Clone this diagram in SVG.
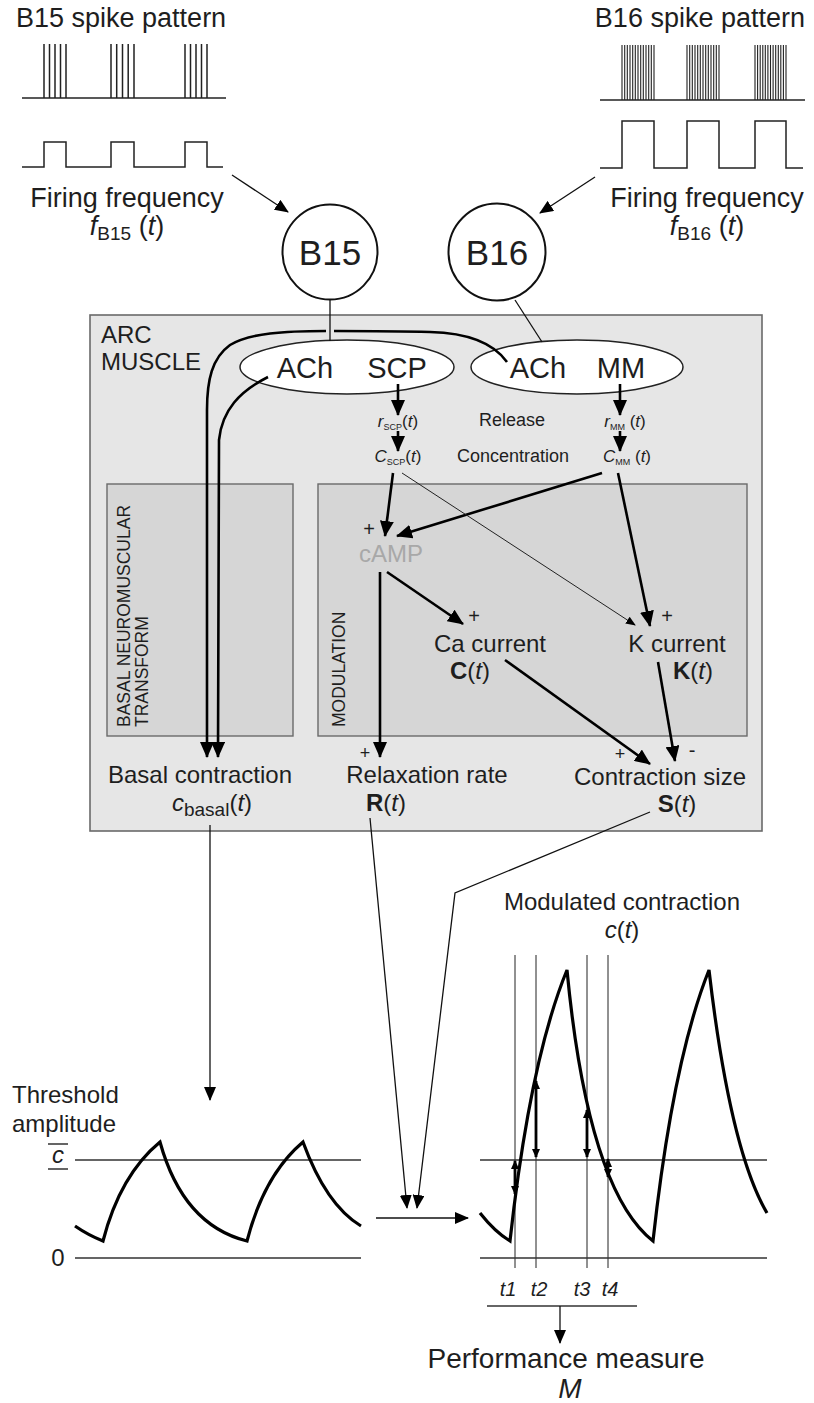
<svg xmlns="http://www.w3.org/2000/svg" width="814" height="1403" viewBox="0 0 814 1403">
  <defs>
    <style>
      text { font-family: "Liberation Sans", Arial, sans-serif; fill: #1e1e1e; }
      .big { font-size: 27px; }
      .lbl { font-size: 24px; }
      .mid { font-size: 18px; }
      .rot { font-size: 17.5px; }
      .sm { font-size: 17px; }
      .it { font-style: italic; }
      .bd { font-weight: bold; }
      .trace { fill: none; stroke: #222; stroke-width: 1.5; }
      .wave { fill: none; stroke: #000; stroke-width: 3.2; stroke-linejoin: miter; }
      .axis { fill: none; stroke: #333; stroke-width: 1.3; }
      .thick { fill: none; stroke: #000; stroke-width: 2.6; }
      .thin { fill: none; stroke: #111; stroke-width: 1.3; }
      .hair { fill: none; stroke: #222; stroke-width: 1; }
    </style>
    <marker id="ahBig" viewBox="0 0 16 14" markerWidth="16" markerHeight="14" refX="15" refY="7" orient="auto" markerUnits="userSpaceOnUse">
      <path d="M0,0 L16,7 L0,14 z" fill="#000"/>
    </marker>
    <marker id="ahMid" viewBox="0 0 14 12" markerWidth="14" markerHeight="12" refX="13" refY="6" orient="auto" markerUnits="userSpaceOnUse">
      <path d="M0,0 L14,6 L0,12 z" fill="#000"/>
    </marker>
    <marker id="ahSmall" viewBox="0 0 10 8" markerWidth="10" markerHeight="8" refX="9" refY="4" orient="auto" markerUnits="userSpaceOnUse">
      <path d="M0,0 L10,4 L0,8 z" fill="#000"/>
    </marker>
    <marker id="ahTiny" viewBox="0 0 9 8" markerWidth="9" markerHeight="8" refX="8" refY="4" orient="auto-start-reverse" markerUnits="userSpaceOnUse">
      <path d="M0,0 L9,4 L0,8 z" fill="#000"/>
    </marker>
  </defs>

  <rect width="814" height="1403" fill="#fff"/>

  <!-- B15 input: spike train and firing frequency -->
  <g id="b15-input">
    <text class="big" x="16" y="27">B15 spike pattern</text>
    <path class="trace" d="M22,98 H226"/>
    <path class="trace" d="M44,44 V98 M49.5,44 V98 M55,44 V98 M60.5,44 V98 M66,44 V98
                           M111,44 V98 M116.7,44 V98 M122.5,44 V98 M128.2,44 V98 M134,44 V98
                           M185,44 V98 M190.5,44 V98 M196,44 V98 M201.5,44 V98 M207,44 V98"/>
    <path class="trace" d="M22,167 H44 V142 H66 V167 H111 V142 H134 V167 H185 V142 H207 V167 H223"/>
    <text class="big" x="127" y="207" text-anchor="middle">Firing frequency</text>
    <text class="big" x="127" y="235" text-anchor="middle"><tspan class="it">f</tspan><tspan font-size="19" dy="5">B15</tspan><tspan dy="-5"> (</tspan><tspan class="it">t</tspan>)</text>
  </g>

  <!-- B16 input: spike train and firing frequency -->
  <g id="b16-input">
    <text class="big" x="805" y="27" text-anchor="end">B16 spike pattern</text>
    <path class="trace" d="M600,100 H805"/>
    <g stroke="#222" stroke-width="1.1">
      <path d="M622,45 V100 M624.7,45 V100 M627.3,45 V100 M630,45 V100 M632.7,45 V100 M635.3,45 V100 M638,45 V100 M640.7,45 V100 M643.3,45 V100 M646,45 V100 M648.7,45 V100 M651.3,45 V100 M654,45 V100"/>
      <path d="M687,45 V100 M689.7,45 V100 M692.3,45 V100 M695,45 V100 M697.7,45 V100 M700.3,45 V100 M703,45 V100 M705.7,45 V100 M708.3,45 V100 M711,45 V100 M713.7,45 V100 M716.3,45 V100 M719,45 V100"/>
      <path d="M755,45 V100 M757.6,45 V100 M760.2,45 V100 M762.8,45 V100 M765.3,45 V100 M767.9,45 V100 M770.5,45 V100 M773.1,45 V100 M775.7,45 V100 M778.3,45 V100 M780.8,45 V100 M783.4,45 V100 M786,45 V100"/>
    </g>
    <path class="trace" d="M600,168 H622 V121 H654 V168 H687 V121 H719 V168 H755 V121 H786 V168 H803"/>
    <text class="big" x="707" y="207" text-anchor="middle">Firing frequency</text>
    <text class="big" x="707" y="235" text-anchor="middle"><tspan class="it">f</tspan><tspan font-size="19" dy="5">B16</tspan><tspan dy="-5"> (</tspan><tspan class="it">t</tspan>)</text>
  </g>

  <!-- Neurons -->
  <g id="neuron-b15">
    <circle cx="330" cy="252" r="47.5" fill="#fff" stroke="#111" stroke-width="2"/>
    <text x="330" y="265" font-size="35" text-anchor="middle">B15</text>
  </g>
  <g id="neuron-b16">
    <circle cx="497" cy="252" r="48.5" fill="#fff" stroke="#111" stroke-width="2"/>
    <text x="497" y="265" font-size="35" text-anchor="middle">B16</text>
  </g>

  <!-- ARC muscle compartment -->
  <g id="arc-muscle">
    <rect x="90" y="315" width="672" height="516" fill="#e6e6e6" stroke="#6a6a6a" stroke-width="1.6"/>
    <text class="lbl" x="101" y="343">ARC</text>
    <text class="lbl" x="101" y="370">MUSCLE</text>
  </g>

  <g id="basal-transform">
    <rect x="107" y="484" width="186" height="252" fill="#d6d6d6" stroke="#6a6a6a" stroke-width="1.4"/>
    <text class="rot" transform="translate(130,727) rotate(-90)">BASAL NEUROMUSCULAR</text>
    <text class="rot" transform="translate(148,727) rotate(-90)">TRANSFORM</text>
  </g>

  <g id="modulation">
    <rect x="318" y="484" width="429" height="252" fill="#d6d6d6" stroke="#6a6a6a" stroke-width="1.4"/>
    <text class="rot" transform="translate(345,727) rotate(-90)">MODULATION</text>
  </g>

  <!-- Transmitter release sites -->
  <g id="release-b15">
    <ellipse cx="347" cy="367" rx="107" ry="27" fill="#fff" stroke="#222" stroke-width="1.5"/>
    <text x="305" y="378" font-size="29" text-anchor="middle">ACh</text>
    <text x="397" y="378" font-size="29" text-anchor="middle">SCP</text>
  </g>
  <g id="release-b16">
    <ellipse cx="577" cy="367" rx="106" ry="27" fill="#fff" stroke="#222" stroke-width="1.5"/>
    <text x="538" y="378" font-size="29" text-anchor="middle">ACh</text>
    <text x="621" y="378" font-size="29" text-anchor="middle">MM</text>
  </g>

  <!-- Release and concentration variables -->
  <g id="scp-vars">
    <text class="sm" x="398" y="427" text-anchor="middle"><tspan class="it">r</tspan><tspan font-size="9" dy="3">SCP</tspan><tspan dy="-3">(</tspan><tspan class="it">t</tspan>)</text>
    <text class="sm" x="398" y="462" text-anchor="middle"><tspan class="it">C</tspan><tspan font-size="9" dy="3">SCP</tspan><tspan dy="-3">(</tspan><tspan class="it">t</tspan>)</text>
  </g>
  <g id="mm-vars">
    <text class="sm" x="625" y="427" text-anchor="middle"><tspan class="it">r</tspan><tspan font-size="9" dy="3">MM</tspan><tspan dy="-3"> (</tspan><tspan class="it">t</tspan>)</text>
    <text class="sm" x="627" y="462" text-anchor="middle"><tspan class="it">C</tspan><tspan font-size="9" dy="3">MM</tspan><tspan dy="-3"> (</tspan><tspan class="it">t</tspan>)</text>
  </g>
  <g id="stage-labels">
    <text class="mid" x="512" y="426" text-anchor="middle" fill="#333">Release</text>
    <text class="mid" x="513" y="462" text-anchor="middle" fill="#333">Concentration</text>
  </g>

  <!-- Intracellular nodes -->
  <g id="camp">
    <text x="391" y="562" font-size="24" text-anchor="middle" style="fill:#a8a8a8">cAMP</text>
    <text x="369" y="536" font-size="20" text-anchor="middle">+</text>
  </g>
  <g id="ca-current">
    <text x="474" y="623" font-size="20" text-anchor="middle">+</text>
    <text class="lbl" x="490" y="652" text-anchor="middle">Ca current</text>
    <text class="lbl" x="470" y="679" text-anchor="middle"><tspan class="bd">C</tspan>(<tspan class="it">t</tspan>)</text>
  </g>
  <g id="k-current">
    <text x="667" y="623" font-size="20" text-anchor="middle">+</text>
    <text class="lbl" x="677" y="652" text-anchor="middle">K current</text>
    <text class="lbl" x="693" y="679" text-anchor="middle"><tspan class="bd">K</tspan>(<tspan class="it">t</tspan>)</text>
  </g>
  <g id="basal-contraction">
    <text class="lbl" x="200" y="783" text-anchor="middle">Basal contraction</text>
    <text class="lbl" x="212" y="811" text-anchor="middle"><tspan class="it">c</tspan><tspan font-size="19" dy="5">basal</tspan><tspan dy="-5">(</tspan><tspan class="it">t</tspan>)</text>
  </g>
  <g id="relaxation-rate">
    <text x="365" y="759" font-size="18" text-anchor="middle">+</text>
    <text class="lbl" x="427" y="783" text-anchor="middle">Relaxation rate</text>
    <text class="lbl" x="386" y="811" text-anchor="middle"><tspan class="bd">R</tspan>(<tspan class="it">t</tspan>)</text>
  </g>
  <g id="contraction-size">
    <text x="620" y="760" font-size="18" text-anchor="middle">+</text>
    <text x="692" y="757" font-size="20" text-anchor="middle">-</text>
    <text class="lbl" x="660" y="785" text-anchor="middle">Contraction size</text>
    <text class="lbl" x="677" y="812" text-anchor="middle"><tspan class="bd">S</tspan>(<tspan class="it">t</tspan>)</text>
  </g>

  <!-- Basal contraction trace -->
  <g id="basal-trace">
    <text class="lbl" x="12" y="1103">Threshold</text>
    <text class="lbl" x="12" y="1132">amplitude</text>
    <text class="lbl it" x="58" y="1163" text-anchor="middle">c</text>
    <path class="axis" d="M48,1144 H68 M48,1169 H68"/>
    <text class="lbl" x="58" y="1266" text-anchor="middle">0</text>
    <path class="axis" d="M75,1160 H361 M75,1258 H361"/>
    <path class="wave" d="M75,1226 Q88,1235 103,1241 Q120,1175 160,1142 Q183,1225 247,1241 Q264,1175 303,1142 Q326,1205 361,1226"/>
  </g>

  <!-- Modulated contraction trace -->
  <g id="modulated-trace">
    <text class="lbl" x="622" y="910" text-anchor="middle">Modulated contraction</text>
    <text class="lbl" x="622" y="938" text-anchor="middle"><tspan class="it">c</tspan>(<tspan class="it">t</tspan>)</text>
    <path class="hair" d="M515,955 V1268 M536,955 V1268 M587,955 V1268 M608,955 V1268"/>
    <path class="axis" d="M480,1160 H767 M480,1258 H767"/>
    <path class="wave" d="M480,1213 Q495,1232 510,1241 Q530,1060 567,970 Q588,1190 653,1241 Q673,1060 709,970 Q730,1150 767,1213"/>
    <g stroke="#000" stroke-width="2.8" fill="none" marker-start="url(#ahTiny)" marker-end="url(#ahTiny)">
      <path d="M515,1161 V1194"/>
      <path d="M536,1157 V1081"/>
      <path d="M587,1157 V1110"/>
      <path d="M608,1159 V1177"/>
    </g>
    <text class="it" x="508" y="1296" font-size="20" text-anchor="middle">t1</text>
    <text class="it" x="539" y="1296" font-size="20" text-anchor="middle">t2</text>
    <text class="it" x="582" y="1296" font-size="20" text-anchor="middle">t3</text>
    <text class="it" x="610" y="1296" font-size="20" text-anchor="middle">t4</text>
    <path class="axis" d="M487,1306 H637"/>
  </g>

  <g id="performance">
    <text x="566" y="1368" font-size="28" text-anchor="middle">Performance measure</text>
    <text class="it" x="570" y="1398" font-size="28" text-anchor="middle">M</text>
  </g>

  <!-- Connectors -->
  <g id="connectors">
    <!-- firing frequency drives the neurons -->
    <path class="thin" d="M232,175 L288,212" marker-end="url(#ahMid)"/>
    <path class="thin" d="M595,177 L540,213" marker-end="url(#ahMid)"/>
    <!-- neurons to release sites -->
    <path class="thin" stroke-width="1.8" d="M330,299 V341"/>
    <path class="thin" stroke-width="1.8" d="M515,300 L542,342"/>
    <!-- B16 ACh routed to basal transform, hopping over the B15 stem -->
    <path class="thick" d="M507,362 C495,345 470,333 430,332 C395,331 360,331 334,331"/>
    <path class="thick" d="M326,331 C285,331 250,333 230,345 C212,358 207,380 207,410 L207,757" marker-end="url(#ahBig)"/>
    <!-- B15 ACh to basal transform -->
    <path class="thick" d="M268,377 C240,391 222,410 219,440 L218,757" marker-end="url(#ahBig)"/>
    <!-- peptide release chains -->
    <path class="thick" d="M398,384 V415" marker-end="url(#ahBig)"/>
    <path class="thick" d="M398,431 V451" marker-end="url(#ahBig)"/>
    <path class="thick" d="M620,384 V415" marker-end="url(#ahBig)"/>
    <path class="thick" d="M620,431 V451" marker-end="url(#ahBig)"/>
    <!-- modulators to second messengers and currents -->
    <path class="thick" d="M393,473 L385,536" marker-end="url(#ahBig)"/>
    <path class="thick" d="M602,473 L397,536" marker-end="url(#ahBig)"/>
    <path class="hair" d="M402,473 L635,625" marker-end="url(#ahSmall)"/>
    <path class="thick" d="M618,473 L650,626" marker-end="url(#ahBig)"/>
    <path class="thick" d="M387,572 L463,624" marker-end="url(#ahBig)"/>
    <path class="thick" d="M380,572 L380,757" marker-end="url(#ahBig)"/>
    <path class="thick" d="M505,660 L650,764" marker-end="url(#ahBig)"/>
    <path class="thick" d="M658,662 L675,761" marker-end="url(#ahBig)"/>
    <!-- outputs to the contraction traces -->
    <path class="thin" d="M210,825 V1100" marker-end="url(#ahMid)"/>
    <path class="thin" d="M370,818 L407,1208" marker-end="url(#ahMid)"/>
    <path class="thin" d="M650,812 L455,893 L417,1208" marker-end="url(#ahMid)"/>
    <path class="thin" d="M376,1218 H468" marker-end="url(#ahMid)"/>
    <path class="thin" d="M560,1306 V1343" marker-end="url(#ahMid)"/>
  </g>
</svg>
